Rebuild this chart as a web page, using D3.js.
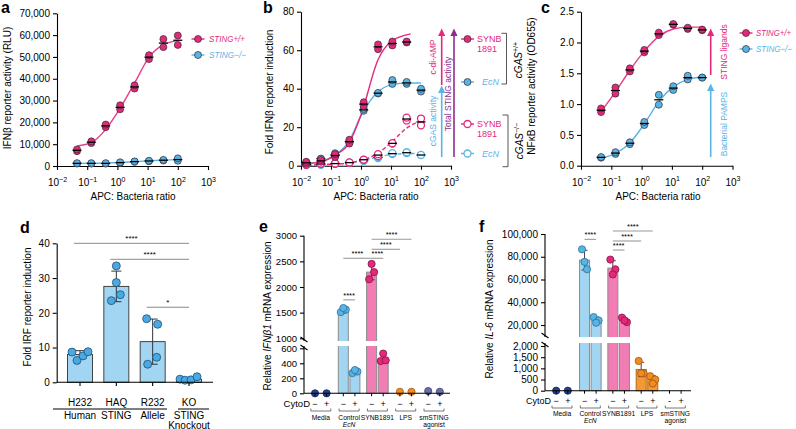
<!DOCTYPE html>
<html><head><meta charset="utf-8">
<script src="https://cdn.jsdelivr.net/npm/d3@7"></script>
<style>html,body{margin:0;padding:0;background:#fff;}svg{display:block;}</style>
</head><body>
<script>
// ================= DATA =================
const doses  = [0.046, 0.137, 0.41, 1.23, 3.7, 11.1, 33.3, 100];
const dosesB = [0.015, 0.046, 0.137, 0.41, 1.23, 3.7, 11.1, 33.3, 100];
const logTicks = [0.01, 0.1, 1, 10, 100, 1000];

// panel a (RLU)
const aWT = [[6800,7600],[10500,11300],[17800,19000],[26000,27800],[35500,37000],[49000,50800],[54500,58200],[55500,59800]];
const aKO = [[1100,1300],[1100,1300],[1100,1300],[1400,1700],[1900,2100],[2200,2400],[2500,2800],[2400,3500]];
const aFitWT = [9200,10700,16800,26500,38000,49800,55600,57500];
const aFitKO = [1200,1250,1350,1600,2000,2400,2700,2900];
const aYTicks = [0,10000,20000,30000,40000,50000,60000,70000];

// panel b (fold IFNb)
const bSynWT = [[1,2],[2,3],[4.5,6],[11.5,13.5],[31,33],[60.5,63],[62.5,64.5],[64,64.5]];
const bEcnWT = [[1.5,1.8],[3.5,3.7],[5,6.5],[12,13],[28.5,29.5],[37.5,37.8],[42.5,44.5],[42.5,43.5],[38.5,40]];
const bSynKO = [[0.5,0.6],[1,1.1],[1,1.2],[1.5,1.7],[3,3.2],[5,6],[11.5,11.7],[23.5,25],[21,24.5]];
const bEcnKO = [[0.5,0.6],[0.5,0.7],[1,1.1],[1.5,1.6],[2.5,2.7],[4,4.5],[6,6.5],[6.5,7],[5.5,5.6]];
const bFitX1 = [0.01,0.046,0.137,0.41,1,3.7,10,45];
const bFitSynWT = [0.8,2,5.5,12,26.3,55,64.5,68.5];
const bFitX2 = [0.01,0.046,0.137,0.41,1,3.7,10,33,100];
const bFitEcnWT = [0.8,2.2,5.5,13,26,38.4,42,43,43];
const bFitSynKO = [0.3,0.5,0.8,1.4,2.8,6.5,12,19.5,23.5];
const bFitEcnKO = [0.3,0.5,0.9,1.5,2.7,4.5,5.8,6.3,6.4];
const bYTicks = [0,20,40,60,80];

// panel c (NFkB OD655)
const cWT = [[0.87,0.93],[1.17,1.27],[1.53,1.58],[1.84,1.88],[2.12,2.16],[2.29,2.3],[2.22,2.24],[2.2,2.21]];
const cKO = [[0.13,0.14],[0.19,0.22],[0.35,0.38],[0.66,0.71],[0.99,1.15],[1.23,1.29],[1.4,1.46],[1.43,1.43]];
const cFitWT = [0.88,1.2,1.55,1.86,2.1,2.22,2.25,2.25];
const cFitKO = [0.12,0.2,0.37,0.68,1.04,1.28,1.4,1.44];
const cYTicks = [0,0.5,1,1.5,2,2.5];

// panel d (fold IRF)
const dCats = ["H232","HAQ","R232","KO"];
const dMeans = [8, 27.6, 11.7, 0.9];
const dSD = [1.1, 4.4, 6.5, 0.4];
const dPts = [[8.7,6.3,7.6,8.8],[33.5,28.7,23.5,25.2],[18.3,16.7,5.2,7.2],[0.9,0.6,0.7,1.6]];
const dYTicks = [0,10,20,30,40];
const dSig = [[0,3,40,"****"],[1,3,35.4,"****"],[2,3,21.6,"*"]];

// panel e (IFNb1 mRNA)
const groups = ["Media","Control","SYNB1891","LPS","smSTING"];
const groupSub = ["","EcN","","","agonist"];
const eMeans = [0,0, 1530,285, 2290,460, 20,20, 30,20];
const eSD    = [0,0, 40,22, 150,55, 0,0, 0,0];
const ePts   = [[0],[0],[1510,1560,1590],[270,290,310],[2150,2290,2450],[430,440,530],[20],[20],[30],[20]];
const eTopTicks = [1000,1500,2000,2500,3000];
const eLowTicks = [0,200,400,600];
const eSigns = ["\u2212","+","\u2212","+","\u2212","+","\u2212","+","\u2212","+"];
const eSig = [[2,3,1750],[2,4,2560],[4,5,2560],[4,6,2735],[4,7,2930]];

// panel f (IL-6 mRNA)
const fMeans = [0,0, 77000,24400, 70000,24200, 950,500, 0,0];
const fSD    = [0,0, 8700,2500, 6500,2000, 320,170, 0,0];
const fPts   = [[0],[0],[86500,69000,75500],[27000,24000,22000],[77500,69000,64500],[26500,22500,24000],[1330,780,780],[650,500,320],[],[]];
const fTopTicks = [20000,40000,60000,80000,100000];
const fLowTicks = [0,500,1000,1500,2000];
const fSigns = ["\u2212","+","\u2212","+","\u2212","+","\u2212","+","-","+"];
const fSig = [[2,3,95300],[4,5,85900],[4,6,93850],[4,7,102600]];

// ================= STYLE =================
const FONT = "'Liberation Sans', Arial, Helvetica, sans-serif";
const PINK = "#e4287c", BLUE = "#58b4e6", PURPLE = "#8c2d8e";
const NAVY = "#22418f", ORANGE = "#f28b20", SLATE = "#6d6dab";
const BAR_BLUE = "#a2d5f2", BAR_PINK = "#f27db4", BAR_ORANGE = "#f59a33";

const svg = d3.select("body").append("svg").attr("width",796).attr("height",429)
  .attr("font-family", FONT);

function rich(x, y, parts, o = {}) {
  const size = o.size || 10;
  const t = svg.append("text").attr("x", x).attr("y", y).attr("font-size", size)
    .attr("fill", o.color || "#000").attr("text-anchor", o.anchor || "middle");
  if (o.bold) t.attr("font-weight", "bold");
  if (o.rotate) t.attr("transform", `rotate(-90,${x},${y})`);
  if (o.len) t.attr("textLength", o.len).attr("lengthAdjust", "spacingAndGlyphs");
  let shift = 0;
  parts.forEach(p => {
    const s = t.append("tspan").text(p.t);
    if (p.i) s.attr("font-style", "italic");
    if (p.sup) { s.attr("dy", -size * 0.4 - shift).attr("font-size", size * 0.7); shift = -size * 0.4; }
    else if (shift !== 0) { s.attr("dy", -shift); shift = 0; }
  });
  return t;
}
const T = (s, i) => ({ t: s, i: !!i });

function styleAxis(g, sw = 1.1) {
  g.attr("font-family", FONT);
  g.select(".domain").attr("stroke", "#000").attr("stroke-width", sw);
  g.selectAll(".tick line").attr("stroke", "#000").attr("stroke-width", sw);
  g.selectAll(".tick text").attr("fill", "#000");
}

function doseAxes(x, y, y0, yTicks, fmt) {
  const x0 = x.range()[0];
  const gy = svg.append("g").attr("transform", `translate(${x0},0)`)
    .call(d3.axisLeft(y).tickValues(yTicks).tickFormat(fmt).tickSize(4).tickSizeOuter(0).tickPadding(3));
  gy.attr("font-size", 10); styleAxis(gy);
  const gx = svg.append("g").attr("transform", `translate(0,${y0})`)
    .call(d3.axisBottom(x).tickValues(logTicks).tickFormat("").tickSize(4).tickSizeOuter(0));
  styleAxis(gx);
  gx.selectAll(".tick").append("text").attr("y", 20).attr("text-anchor", "middle")
    .attr("font-size", 10).attr("fill", "#000").each(function (d) {
      const e = Math.round(Math.log10(d));
      const t = d3.select(this);
      t.append("tspan").text("10");
      t.append("tspan").attr("dy", -4.5).attr("font-size", 7).text(e < 0 ? "\u2212" + (-e) : String(e));
    });
}

function curve(x, y, xs, ys, color, dashed) {
  const line = d3.line().x(d => x(d[0])).y(d => y(d[1])).curve(d3.curveMonotoneX);
  svg.append("path").attr("d", line(xs.map((v, i) => [v, ys[i]])))
    .attr("fill", "none").attr("stroke", color).attr("stroke-width", 1.4)
    .attr("stroke-dasharray", dashed ? "4,2.5" : null);
}

function dots(x, y, xs, reps, color, filled) {
  reps.forEach((r, i) => {
    r.forEach(v => {
      svg.append("circle").attr("cx", x(xs[i])).attr("cy", y(v)).attr("r", 3.5)
        .attr("fill", filled ? color : "#fff").attr("stroke", filled ? "#3a2a30" : color)
        .attr("stroke-width", filled ? 0.7 : 1.3);
    });
  });
  reps.forEach((r, i) => {
    const m = d3.mean(r);
    svg.append("line").attr("x1", x(xs[i]) - 4.5).attr("x2", x(xs[i]) + 4.5)
      .attr("y1", y(m)).attr("y2", y(m)).attr("stroke", "#000").attr("stroke-width", 1.3);
  });
}

function legendItem(x, y, color, filled) {
  svg.append("line").attr("x1", x - 6.5).attr("x2", x + 6.5).attr("y1", y).attr("y2", y)
    .attr("stroke", color).attr("stroke-width", 1.4);
  svg.append("circle").attr("cx", x).attr("cy", y).attr("r", 3.5)
    .attr("fill", filled ? color : "#fff").attr("stroke", filled ? "#3a2a30" : color)
    .attr("stroke-width", filled ? 0.7 : 1.3);
}

function arrow(x, yBottom, yTip, color) {
  svg.append("line").attr("x1", x).attr("x2", x).attr("y1", yBottom).attr("y2", yTip + 6)
    .attr("stroke", color).attr("stroke-width", 1.6);
  svg.append("path").attr("d", `M${x - 3.6},${yTip + 7.5}L${x},${yTip}L${x + 3.6},${yTip + 7.5}Z`).attr("fill", color);
}

// ================= PANEL A =================
{
  const x = d3.scaleLog().domain([0.01, 1000]).range([57, 208]);
  const y = d3.scaleLinear().domain([0, 70000]).range([166, 13.3]);
  doseAxes(x, y, 166, aYTicks, d3.format(","));
  curve(x, y, doses, aFitKO, BLUE, false);
  curve(x, y, doses, aFitWT, "#ec3d8a", false);
  dots(x, y, doses, aKO, BLUE, true);
  dots(x, y, doses, aWT, PINK, true);
  legendItem(198, 39, PINK, true);
  legendItem(198, 55, BLUE, true);
  rich(209, 42, [T("STING+/+", 1)], { color: PINK, anchor: "start", size: 9, len: 36 });
  rich(209, 58, [T("STING\u2212/\u2212", 1)], { color: BLUE, anchor: "start", size: 9, len: 37 });
  rich(133, 200, [T("APC: Bacteria ratio")]);
  rich(11, 88, [T("IFN\u03b2 reporter activity (RLU)")], { rotate: true });
  rich(1, 13, [T("a")], { anchor: "start", bold: true, size: 16 });
}

// ================= PANEL B =================
{
  const x = d3.scaleLog().domain([0.01, 1000]).range([301, 451]);
  const y = d3.scaleLinear().domain([0, 80]).range([165.7, 11.7]);
  doseAxes(x, y, 165.7, bYTicks, d3.format("d"));
  curve(x, y, bFitX2, bFitEcnKO, BLUE, true);
  curve(x, y, bFitX2, bFitSynKO, PINK, true);
  curve(x, y, bFitX2, bFitEcnWT, BLUE, false);
  curve(x, y, bFitX1, bFitSynWT, PINK, false);
  dots(x, y, dosesB, bEcnKO, BLUE, false);
  dots(x, y, dosesB, bSynKO, PINK, false);
  dots(x, y, dosesB, bEcnWT, BLUE, true);
  dots(x, y, dosesB.slice(0, 8), bSynWT, PINK, true);
  // arrows
  arrow(441.7, 85, 28.5, PINK);
  arrow(441.7, 157, 85.5, BLUE);
  arrow(454, 157, 28.5, PURPLE);
  rich(436, 57, [T("c-di-AMP")], { rotate: true, color: PINK, size: 8.5 });
  rich(436, 121, [T("cGAS activity")], { rotate: true, color: BLUE, size: 8.5 });
  rich(450.5, 94, [T("Total STING activity")], { rotate: true, color: PURPLE, size: 8.5 });
  // legend
  legendItem(467.5, 39, PINK, true);
  legendItem(467.5, 82, BLUE, true);
  legendItem(467.5, 124, PINK, false);
  legendItem(467.5, 153.5, BLUE, false);
  rich(477, 42, [T("SYNB")], { anchor: "start", color: PINK, size: 9 });
  rich(477, 52, [T("1891")], { anchor: "start", color: PINK, size: 9 });
  rich(482, 85, [T("EcN", 1)], { anchor: "start", color: BLUE, size: 9 });
  rich(477, 127, [T("SYNB")], { anchor: "start", color: PINK, size: 9 });
  rich(477, 137, [T("1891")], { anchor: "start", color: PINK, size: 9 });
  rich(482, 156.5, [T("EcN", 1)], { anchor: "start", color: BLUE, size: 9 });
  // brackets
  svg.append("path").attr("d", "M501.5,33.3H506.5V84H501.5").attr("fill", "none").attr("stroke", "#444").attr("stroke-width", 0.9);
  svg.append("path").attr("d", "M502.5,115H508V166.7H502.5").attr("fill", "none").attr("stroke", "#444").attr("stroke-width", 0.9);
  rich(522, 60, [T("cGAS", 1), { t: "+/+", sup: true }], { rotate: true });
  rich(523, 141, [T("cGAS", 1), { t: "\u2212/\u2212", sup: true }], { rotate: true });
  rich(376, 200, [T("APC: Bacteria ratio")]);
  rich(272.5, 92, [T("Fold IFN\u03b2 reporter induction")], { rotate: true });
  rich(263, 13, [T("b")], { anchor: "start", bold: true, size: 16 });
}

// ================= PANEL C =================
{
  const x = d3.scaleLog().domain([0.01, 1000]).range([581, 732.5]);
  const y = d3.scaleLinear().domain([0, 2.5]).range([165.7, 11.7]);
  doseAxes(x, y, 165.7, cYTicks, d3.format(".1f"));
  curve(x, y, doses, cFitKO, BLUE, false);
  curve(x, y, doses, cFitWT, "#ec3d8a", false);
  dots(x, y, doses, cKO, BLUE, true);
  dots(x, y, doses, cWT, PINK, true);
  arrow(710.7, 75, 28.5, PINK);
  arrow(710.7, 157, 83.5, BLUE);
  rich(727, 52, [T("STING ligands")], { rotate: true, color: PINK, size: 8.5 });
  rich(727, 124, [T("Bacterial PAMPS")], { rotate: true, color: BLUE, size: 8.5 });
  legendItem(746, 33, PINK, true);
  legendItem(746, 49, BLUE, true);
  rich(756, 36, [T("STING+/+", 1)], { color: PINK, anchor: "start", size: 9, len: 35 });
  rich(756, 52, [T("STING\u2212/\u2212", 1)], { color: BLUE, anchor: "start", size: 9, len: 36 });
  rich(658, 200, [T("APC: Bacteria ratio")]);
  rich(534.5, 86, [T("NF\u03baB reporter activity (OD655)")], { rotate: true });
  rich(541, 13, [T("c")], { anchor: "start", bold: true, size: 16 });
}

// ================= PANEL D =================
{
  const x = d3.scalePoint().domain(dCats).range([80, 189]);
  const y = d3.scaleLinear().domain([0, 40]).range([382.3, 243.3]);
  const jit = [[-8, -3, 3, 8], [0, 0, -5, 4], [-6, 5, -5, 4], [-9, -4, 2, 8]];
  dCats.forEach((c, i) => {
    svg.append("rect").attr("x", x(c) - 12.5).attr("width", 25).attr("y", y(dMeans[i]))
      .attr("height", y(0) - y(dMeans[i])).attr("fill", BAR_BLUE).attr("stroke", "#333").attr("stroke-width", 0.9);
  });
  dCats.forEach((c, i) => {
    const lo = y(dMeans[i] - dSD[i]), hi = y(dMeans[i] + dSD[i]);
    svg.append("path").attr("d", `M${x(c)},${lo}V${hi}M${x(c) - 5},${hi}H${x(c) + 5}M${x(c) - 5},${lo}H${x(c) + 5}`)
      .attr("stroke", "#333").attr("stroke-width", 1).attr("fill", "none");
    dPts[i].forEach((v, k) => {
      svg.append("circle").attr("cx", x(c) + jit[i][k]).attr("cy", y(v)).attr("r", 4)
        .attr("fill", "#4ba9e2").attr("stroke", "#1f4f78").attr("stroke-width", 0.8);
    });
  });
  const gy = svg.append("g").attr("transform", "translate(56.7,0)")
    .call(d3.axisLeft(y).tickValues(dYTicks).tickSize(4).tickSizeOuter(0).tickPadding(3));
  gy.attr("font-size", 10); styleAxis(gy);
  svg.append("line").attr("x1", 56.7).attr("x2", 213).attr("y1", 382.3).attr("y2", 382.3).attr("stroke", "#000").attr("stroke-width", 1.1);
  dCats.forEach(c => svg.append("line").attr("x1", x(c)).attr("x2", x(c)).attr("y1", 382.3).attr("y2", 386).attr("stroke", "#000").attr("stroke-width", 1.1));
  dCats.forEach(c => rich(x(c), 406, [T(c)]));
  svg.append("line").attr("x1", 53).attr("x2", 167).attr("y1", 409).attr("y2", 409).attr("stroke", "#000").attr("stroke-width", 1);
  svg.append("line").attr("x1", 178).attr("x2", 209).attr("y1", 409).attr("y2", 409).attr("stroke", "#000").attr("stroke-width", 1);
  rich(x("H232"), 419, [T("Human")]);
  rich(x("HAQ"), 419, [T("STING")]);
  rich(x("R232"), 419, [T("Allele")]);
  rich(x("KO"), 419, [T("STING")]);
  rich(x("KO"), 428.5, [T("Knockout")]);
  dSig.forEach(s => {
    const x1 = x(dCats[s[0]]) - 6, x2 = x(dCats[s[1]]), yy = y(s[2]);
    svg.append("line").attr("x1", x1).attr("x2", x2).attr("y1", yy).attr("y2", yy).attr("stroke", "#8a8a8a").attr("stroke-width", 1);
    rich((x1 + x2) / 2, yy - 2, [T(s[3])], { size: 8 });
  });
  rich(31, 307, [T("Fold IRF reporter induction")], { rotate: true });
  rich(20, 233, [T("d")], { anchor: "start", bold: true, size: 16 });
}

// ================= PANELS E, F =================
function barPanel(c) {
  const y = v => (v <= c.split ? c.lo(v) : c.hi(v));
  const gx = d3.scalePoint().domain(groups).range(c.gRange);
  const xp = i => gx(groups[Math.floor(i / 2)]) + (i % 2 ? 5.8 : -5.8);
  const fills = [null, BAR_BLUE, BAR_PINK, BAR_ORANGE, null];
  const strokes = [null, "#8d8d8d", "#8d8d8d", "#b8661a", null];
  const ptFill = [NAVY, BLUE, PINK, ORANGE, SLATE];
  const ptStroke = ["#15265a", "#2f6e96", "#8a1446", "#a5570f", "#3e3e70"];
  c.means.forEach((m, i) => {
    const g = Math.floor(i / 2);
    if (!fills[g] || m < 100 && c.tiny) return;
    svg.append("rect").attr("x", xp(i) - 5).attr("width", 10).attr("y", y(m)).attr("height", c.base - y(m))
      .attr("fill", fills[g]).attr("stroke", strokes[g]).attr("stroke-width", 1);
  });
  // gap of broken axis
  svg.append("rect").attr("x", c.ax + 0.8).attr("width", c.xEnd - c.ax).attr("y", c.gap[0]).attr("height", c.gap[1] - c.gap[0]).attr("fill", "#fff");
  // error bars
  c.means.forEach((m, i) => {
    if (!c.sds[i]) return;
    const a = y(m - c.sds[i]), b = y(m + c.sds[i]);
    svg.append("path").attr("d", `M${xp(i)},${a}V${b}M${xp(i) - 3},${b}H${xp(i) + 3}M${xp(i) - 3},${a}H${xp(i) + 3}`)
      .attr("stroke", "#333").attr("stroke-width", 0.9).attr("fill", "none");
  });
  // points
  const jit = [-2.5, 2.5, 0];
  c.pts.forEach((arr, i) => {
    const g = Math.floor(i / 2);
    arr.forEach((v, k) => {
      svg.append("circle").attr("cx", xp(i) + (arr.length > 1 ? jit[k] : 0)).attr("cy", y(v)).attr("r", 3.6)
        .attr("fill", ptFill[g]).attr("stroke", ptStroke[g]).attr("stroke-width", 0.8);
    });
  });
  // y axis segments
  const gt = svg.append("g").attr("transform", `translate(${c.ax},0)`)
    .call(d3.axisLeft(c.hi).tickValues(c.topTicks).tickFormat(c.fmt).tickSize(4).tickSizeOuter(0).tickPadding(3));
  gt.select(".domain").remove();
  gt.attr("font-size", c.fs); styleAxis(gt);
  const gb = svg.append("g").attr("transform", `translate(${c.ax},0)`)
    .call(d3.axisLeft(c.lo).tickValues(c.lowTicks).tickFormat(c.fmt).tickSize(4).tickSizeOuter(0).tickPadding(3));
  gb.select(".domain").remove();
  gb.attr("font-size", c.fs); styleAxis(gb);
  const topY = c.hi(c.topTicks[c.topTicks.length - 1]);
  svg.append("line").attr("x1", c.ax).attr("x2", c.ax).attr("y1", topY).attr("y2", c.gap[0]).attr("stroke", "#000").attr("stroke-width", 1.1);
  svg.append("line").attr("x1", c.ax).attr("x2", c.ax).attr("y1", c.gap[1]).attr("y2", c.base).attr("stroke", "#000").attr("stroke-width", 1.1);
  svg.append("line").attr("x1", c.ax - 3.5).attr("x2", c.ax + 3.5).attr("y1", c.gap[0] - 4).attr("y2", c.gap[0] + 1).attr("stroke", "#000").attr("stroke-width", 1.1);
  svg.append("line").attr("x1", c.ax - 3.5).attr("x2", c.ax + 3.5).attr("y1", c.gap[1] - 1).attr("y2", c.gap[1] + 4).attr("stroke", "#000").attr("stroke-width", 1.1);
  // x axis
  svg.append("line").attr("x1", c.ax).attr("x2", c.xEnd).attr("y1", c.base).attr("y2", c.base).attr("stroke", "#000").attr("stroke-width", 1.1);
  c.means.forEach((m, i) => svg.append("line").attr("x1", xp(i)).attr("x2", xp(i)).attr("y1", c.base).attr("y2", c.base + 3).attr("stroke", "#000").attr("stroke-width", 1));
  rich(c.cytoX, c.cytoY, [T("CytoD")], { anchor: "end", size: c.cytoSize });
  c.signs.forEach((s, i) => rich(xp(i), c.cytoY, [T(s)], { size: 9 }));
  groups.forEach((g, k) => {
    const cx = gx(g);
    svg.append("path").attr("d", `M${cx - 10},${c.brY - 2.5}V${c.brY}H${cx + 10}V${c.brY - 2.5}`)
      .attr("fill", "none").attr("stroke", "#555").attr("stroke-width", 0.8);
    rich(cx, c.labY, [T(g)], { size: 6.7 });
    if (groupSub[k]) rich(cx, c.labY + 7, [T(groupSub[k], groupSub[k] === "EcN")], { size: 6.7 });
  });
  // significance
  c.sig.forEach(s => {
    const x1 = xp(s[0]), x2 = xp(s[1]), yy = y(s[2]);
    svg.append("line").attr("x1", x1).attr("x2", x2).attr("y1", yy).attr("y2", yy).attr("stroke", "#9a9a9a").attr("stroke-width", 1.1);
    rich((x1 + x2) / 2, yy - 2, [T("****")], { size: 7.5 });
  });
}

barPanel({
  means: eMeans, sds: eSD, pts: ePts, signs: eSigns, sig: eSig,
  lo: d3.scaleLinear().domain([0, 600]).range([393.3, 348.3]),
  hi: d3.scaleLinear().domain([1000, 3000]).range([338.3, 235.7]),
  split: 800, gap: [341, 346], ax: 304, base: 393.3, xEnd: 450,
  gRange: [320.8, 434], topTicks: eTopTicks, lowTicks: eLowTicks, fmt: d3.format("d"), fs: 9.5,
  cytoX: 310, cytoY: 407, cytoSize: 9.5, brY: 411, labY: 419.5, tiny: true
});
rich(271, 316, [T("Relative "), T("IFN\u03b21", 1), T(" mRNA expression")], { rotate: true });
rich(259, 232, [T("e")], { anchor: "start", bold: true, size: 16 });

barPanel({
  means: fMeans, sds: fSD, pts: fPts, signs: fSigns, sig: fSig,
  lo: d3.scaleLinear().domain([0, 2000]).range([390.7, 346]),
  hi: d3.scaleLinear().domain([20000, 100000]).range([325, 234]),
  split: 5000, gap: [337, 343], ax: 545, base: 390.7, xEnd: 691,
  gRange: [562, 675.3], topTicks: fTopTicks, lowTicks: fLowTicks, fmt: d3.format(","), fs: 10,
  cytoX: 551, cytoY: 403.5, cytoSize: 9, brY: 408, labY: 415.5, tiny: false
});
rich(493, 309, [T("Relative "), T("IL-6", 1), T(" mRNA expression")], { rotate: true });
rich(479, 232, [T("f")], { anchor: "start", bold: true, size: 16 });
</script>
</body></html>
